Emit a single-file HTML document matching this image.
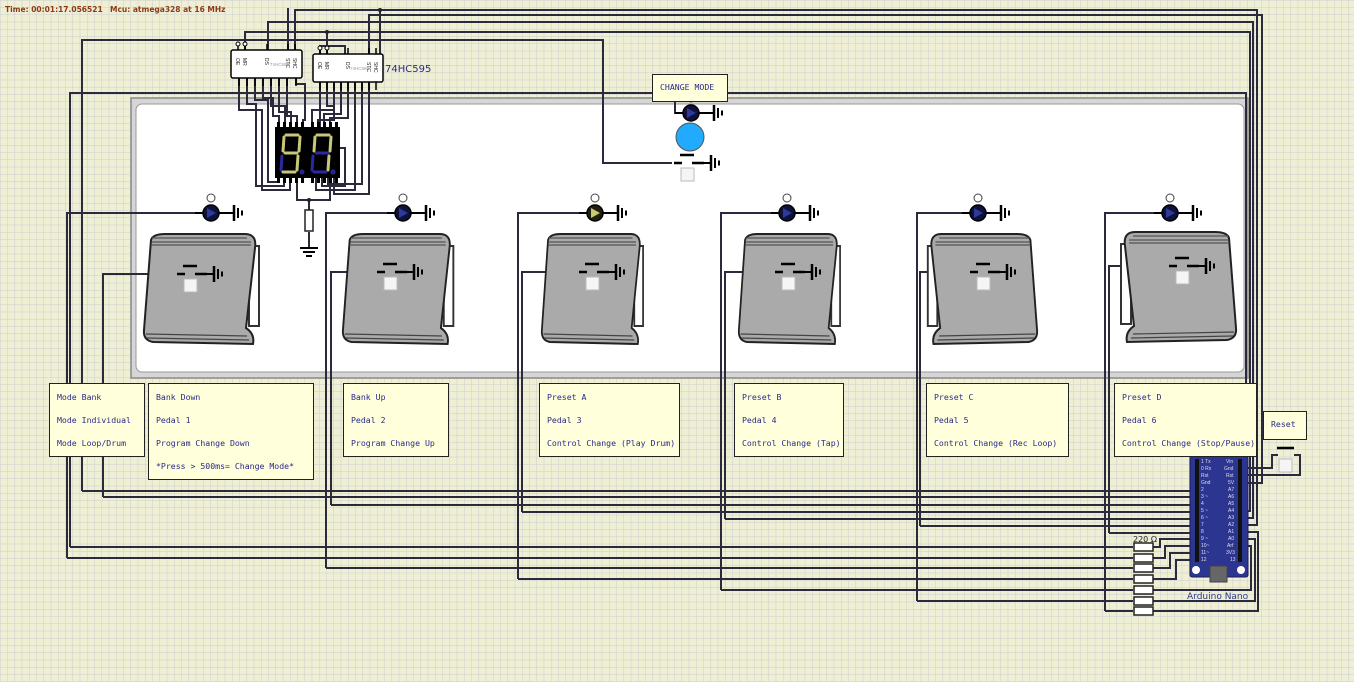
<!DOCTYPE html>
<html><head><meta charset="utf-8"><style>
html,body{margin:0;padding:0;}
body{width:1354px;height:682px;overflow:hidden;position:relative;background:#efefd4;font-family:"DejaVu Sans Mono","Liberation Mono",monospace;}
svg{position:absolute;left:0;top:0;}
.tb{position:absolute;background:#ffffdc;border:1px solid #222;box-sizing:border-box;color:#2a2a8a;font-size:8.2px;line-height:23px;padding:2px 0 0 7px;white-space:nowrap;font-family:"DejaVu Sans Mono","Liberation Mono",monospace;}
</style></head><body>
<svg width="1354" height="682" viewBox="0 0 1354 682" xmlns="http://www.w3.org/2000/svg">
<defs>
<pattern id="grid" width="7.25" height="7.25" patternUnits="userSpaceOnUse">
<rect width="7.25" height="7.25" fill="#efefd4"/>
<path d="M0,0 H7.25 M0,0 V7.25" stroke="#cdcdd2" stroke-width="1" fill="none"/>
</pattern>
<g id="gnd" stroke="#000" fill="none"><path d="M0,0 H7" stroke-width="2"/><path d="M7,-8 V8" stroke-width="2.5"/><path d="M11,-5 V5" stroke-width="2"/><path d="M15,-2.5 V2.5" stroke-width="2"/></g>
<g id="led"><circle cx="0" cy="-15" r="4" fill="#fff" stroke="#444"/><path d="M-16,0 H-8 M8,0 H16" stroke="#000" stroke-width="2"/><circle r="8" fill="#10103c" stroke="#000" stroke-width="1.5"/><path d="M-4,-5 L5,0 L-4,5Z" fill="#2c3a9a"/><use href="#gnd" x="16" y="0"/></g>
<g id="ledy"><circle cx="0" cy="-15" r="4" fill="#fff" stroke="#444"/><path d="M-16,0 H-8 M8,0 H16" stroke="#000" stroke-width="2"/><circle r="8" fill="#20200c" stroke="#000" stroke-width="1.5"/><path d="M-4,-5 L5,0 L-4,5Z" fill="#c8c878"/><use href="#gnd" x="16" y="0"/></g>
<g id="sw"><path d="M-8,-8 H6" stroke="#000" stroke-width="2.5"/><path d="M-14,0 H-6 M4,0 H16" stroke="#000" stroke-width="2.5"/><rect x="-7" y="5" width="13" height="13" fill="#f5f5f5" stroke="#bbb"/><use href="#gnd" x="16" y="0"/></g>
<g id="pedal">
<path d="M106,12 L116,12 L116,92 L106,92Z" fill="#fff" stroke="#333" stroke-width="2"/>
<path d="M8,6 Q10,0 22,0 L102,0 Q114,0 112,14 L103,94 Q112,100 110,110 L10,108 Q0,106 1,96 Z" fill="#aaa" stroke="#222" stroke-width="2"/>
<path d="M9,4 L104,4 M9,8 L108,8 M8,11 L108,11" stroke="#555" stroke-width="1.2" fill="none"/>
<path d="M3,100 L104,102 M4,104 L106,106" stroke="#444" stroke-width="1.2" fill="none"/>
</g>
</defs>
<rect width="1354" height="682" fill="url(#grid)"/>

<rect x="131" y="98" width="1117" height="280" fill="#d6d6d6" stroke="#888" stroke-width="1.5"/>
<rect x="136" y="104" width="1108" height="268" rx="6" fill="#fff" stroke="#999"/>

<g stroke="#2a2a3c" stroke-width="2" fill="none">
<path d="M295,50 V10 H1257 V525 H1240"/>
<path d="M268,50 V22 H1253 V518 H1240"/>
<path d="M245,50 V32 H1250 V511 H1240"/>
<path d="M327,54 V32"/>
<path d="M380,54 V10"/>
<path d="M288,50 V8"/>
<path d="M369,54 V15 H1262 V483 H1240"/>
<path d="M82,491 V40 H603 V163 H672"/>
<path d="M70,547 V93 H675 V113 H683"/>
<path d="M727,93 H1246 V470"/>
<path d="M320,54 V46 H345 V54"/>
<path d="M67,558 V213 H195"/>
<path d="M103,497 V274 H177"/>
<path d="M326,568 V213 H387"/>
<path d="M331,505 V272 H377"/>
<path d="M518,579 V213 H579"/>
<path d="M522,512 V272 H579"/>
<path d="M721,590 V213 H771"/>
<path d="M725,519 V272 H775"/>
<path d="M917,601 V213 H962"/>
<path d="M920,526 V272 H970"/>
<path d="M1105,611 V213 H1154"/>
<path d="M1109,533 V266 H1169"/>
<path d="M82,491 H1197"/>
<path d="M103,497 H1197"/>
<path d="M331,505 H1197"/>
<path d="M522,512 H1197"/>
<path d="M725,519 H1197"/>
<path d="M920,526 H1197"/>
<path d="M1109,533 H1197"/>
<path d="M70,547 H1133"/>
<path d="M67,558 H1133"/>
<path d="M326,568 H1133"/>
<path d="M518,579 H1133"/>
<path d="M721,590 H1133"/>
<path d="M917,601 H1133"/>
<path d="M1105,611 H1133"/>
<path d="M1153,547 H1160 V539 H1197"/>
<path d="M1153,558 H1165 V546 H1197"/>
<path d="M1153,568 H1170 V553 H1197"/>
<path d="M1153,579 H1176 V560 H1197"/>
<path d="M1153,590 H1251 V546 H1240"/>
<path d="M1153,601 H1255 V539 H1240"/>
<path d="M1153,611 H1258 V532 H1240"/>
<path d="M1240,468 H1272 V455 H1278"/>
<path d="M1240,475 H1300 V455 H1294"/>
<path d="M239,78 V110 H262 V190 H290 V178"/>
<path d="M247,78 V104 H256 V186 H284 V178"/>
<path d="M255,78 V100 H268 V182 H279 V178"/>
<path d="M263,78 V98 H273 V116 H279 V127"/>
<path d="M271,78 V106 H285 V127"/>
<path d="M279,78 V112 H291 V127"/>
<path d="M287,78 V116 H297 V127"/>
<path d="M296,78 V84 H305 V120 H303 V127"/>
<path d="M320,82 V148 H345 V186 H322 V178"/>
<path d="M327,82 V106 H334 V120 H318 V127"/>
<path d="M334,82 V110 H312 V127"/>
<path d="M341,82 V114 H324 V127"/>
<path d="M348,82 V118 H330 V127"/>
<path d="M355,82 V190 H316 V178"/>
<path d="M362,82 V184 H328 V178"/>
<path d="M369,82 V194 H334 V178"/>
<path d="M297,178 V200 H330 V178"/>
<path d="M309,200 V210 M309,232 V247"/>
</g>
<circle cx="380" cy="10" r="2" fill="#222"/><circle cx="327" cy="32" r="2" fill="#222"/><circle cx="309" cy="200" r="2" fill="#222"/>
<rect x="305" y="210" width="8" height="21" fill="#fff" stroke="#222" stroke-width="1.5"/>
<path d="M300,248 H318 M303,252 H315 M306,256 H312" stroke="#000" stroke-width="2"/>

<g stroke="#000" stroke-width="1.5">
<path d="M238,50 V43 M245,50 V43 M267,50 V44 M288,50 V44 M295,50 V44"/>
<path d="M320,54 V47 M327,54 V47 M348,54 V48 M369,54 V48 M376,54 V48"/>
<path d="M239,78 V86 M247,78 V86 M255,78 V86 M263,78 V86 M271,78 V86 M279,78 V86 M287,78 V86 M296,78 V86"/>
<path d="M320,82 V90 M327,82 V90 M334,82 V90 M341,82 V90 M348,82 V90 M355,82 V90 M362,82 V90 M369,82 V90 M376,82 V90"/>
</g>
<circle cx="238" cy="44" r="2" fill="#fff" stroke="#000"/><circle cx="245" cy="44" r="2" fill="#fff" stroke="#000"/>
<circle cx="320" cy="48" r="2" fill="#fff" stroke="#000"/><circle cx="327" cy="48" r="2" fill="#fff" stroke="#000"/>
<rect x="231" y="50" width="71" height="28" rx="2" fill="#fff" stroke="#000" stroke-width="1.5"/>
<rect x="313" y="54" width="70" height="28" rx="2" fill="#fff" stroke="#000" stroke-width="1.5"/>
<text x="270" y="66" font-size="4.5" fill="#999" font-family="Liberation Sans,sans-serif">74HC595</text>
<text x="350" y="70" font-size="4.5" fill="#999" font-family="Liberation Sans,sans-serif">74HC595</text>
<text x="385" y="72" font-size="10" fill="#2a2a8a" font-family="DejaVu Sans,sans-serif">74HC595</text>
<g font-size="5" fill="#222" font-family="Liberation Sans,sans-serif">
<text x="236" y="58" transform="rotate(90 236 58)">OE</text><text x="243" y="58" transform="rotate(90 243 58)">MR</text><text x="265" y="58" transform="rotate(90 265 58)">DS</text><text x="286" y="58" transform="rotate(90 286 58)">STC</text><text x="293" y="58" transform="rotate(90 293 58)">SHC</text>
<text x="318" y="62" transform="rotate(90 318 62)">OE</text><text x="325" y="62" transform="rotate(90 325 62)">MR</text><text x="346" y="62" transform="rotate(90 346 62)">DS</text><text x="367" y="62" transform="rotate(90 367 62)">STC</text><text x="374" y="62" transform="rotate(90 374 62)">SHC</text>
</g>

<rect x="275" y="127" width="65" height="51" fill="#000"/>
<g fill="#000"><rect x="277" y="122" width="3" height="5"/><rect x="283" y="122" width="3" height="5"/><rect x="289" y="122" width="3" height="5"/><rect x="295" y="122" width="3" height="5"/><rect x="301" y="122" width="3" height="5"/><rect x="311" y="122" width="3" height="5"/><rect x="317" y="122" width="3" height="5"/><rect x="323" y="122" width="3" height="5"/><rect x="329" y="122" width="3" height="5"/><rect x="335" y="122" width="3" height="5"/>
<rect x="277" y="178" width="3" height="5"/><rect x="283" y="178" width="3" height="5"/><rect x="289" y="178" width="3" height="5"/><rect x="295" y="178" width="3" height="5"/><rect x="301" y="178" width="3" height="5"/><rect x="311" y="178" width="3" height="5"/><rect x="317" y="178" width="3" height="5"/><rect x="323" y="178" width="3" height="5"/><rect x="329" y="178" width="3" height="5"/><rect x="335" y="178" width="3" height="5"/></g>
<g stroke-width="3" stroke-linecap="round" fill="none">
<path d="M286,135 H298" stroke="#c8c878"/><path d="M284,137 L283,151" stroke="#c8c878"/><path d="M300,137 L299,151" stroke="#c8c878"/><path d="M285,153 H297" stroke="#c8c878"/><path d="M282,156 L281,170" stroke="#2a2aa0"/><path d="M298,156 L297,170" stroke="#c8c878"/><path d="M283,172 H295" stroke="#c8c878"/><circle cx="302" cy="172" r="1" stroke="#2a2aa0"/>
<path d="M317,135 H329" stroke="#c8c878"/><path d="M315,137 L314,151" stroke="#c8c878"/><path d="M331,137 L330,151" stroke="#c8c878"/><path d="M316,153 H328" stroke="#2a2aa0"/><path d="M313,156 L312,170" stroke="#2a2aa0"/><path d="M329,156 L328,170" stroke="#c8c878"/><path d="M314,172 H326" stroke="#2a2aa0"/><circle cx="333" cy="172" r="1" stroke="#2a2aa0"/>
</g>

<use href="#led" x="691" y="113"/>
<circle cx="690" cy="137" r="14" fill="#22aaff" stroke="#555"/>
<use href="#sw" x="688" y="163"/>

<use href="#pedal" transform="translate(143,234)"/>
<use href="#pedal" transform="translate(342,234) scale(0.96,1)"/>
<use href="#pedal" transform="translate(541,234) scale(0.88,1)"/>
<use href="#pedal" transform="translate(738,234) scale(0.88,1)"/>
<use href="#pedal" transform="translate(1038,234) scale(-0.95,1)"/>
<use href="#pedal" transform="translate(1237,232) scale(-1,1)"/>

<use href="#led" x="211" y="213"/><use href="#led" x="403" y="213"/><use href="#ledy" x="595" y="213"/><use href="#led" x="787" y="213"/><use href="#led" x="978" y="213"/><use href="#led" x="1170" y="213"/>
<use href="#sw" x="191" y="274"/><use href="#sw" x="391" y="272"/><use href="#sw" x="593" y="272"/><use href="#sw" x="789" y="272"/><use href="#sw" x="984" y="272"/><use href="#sw" x="1183" y="266"/>

<g fill="#fff" stroke="#222" stroke-width="1.5">
<rect x="1134" y="543" width="19" height="8"/><rect x="1134" y="554" width="19" height="8"/><rect x="1134" y="564" width="19" height="8"/><rect x="1134" y="575" width="19" height="8"/><rect x="1134" y="586" width="19" height="8"/><rect x="1134" y="597" width="19" height="8"/><rect x="1134" y="607" width="19" height="8"/>
</g>
<text x="1133" y="542" font-size="8" fill="#222" font-family="DejaVu Sans,sans-serif">220 Ω</text>

<rect x="1190" y="456" width="58" height="121" rx="2" fill="#2c3590" stroke="#1a1f60"/>
<rect x="1210" y="566" width="17" height="16" fill="#666" stroke="#444"/>
<circle cx="1196" cy="570" r="4" fill="#fff"/><circle cx="1241" cy="570" r="4" fill="#fff"/>
<g fill="#111">
<rect x="1195" y="459" width="4" height="103"/><rect x="1238" y="459" width="4" height="103"/>
</g>
<g font-size="5" fill="#dde" font-family="Liberation Sans,sans-serif">
<text x="1201" y="463">1 Tx</text><text x="1201" y="470">0 Rx</text><text x="1201" y="477">Rst</text><text x="1201" y="484">Gnd</text><text x="1201" y="491">2</text><text x="1201" y="498">3 ~</text><text x="1201" y="505">4</text><text x="1201" y="512">5 ~</text><text x="1201" y="519">6 ~</text><text x="1201" y="526">7</text><text x="1201" y="533">8</text><text x="1201" y="540">9 ~</text><text x="1201" y="547">10~</text><text x="1201" y="554">11~</text><text x="1201" y="561">12</text>
<text x="1226" y="463">Vin</text><text x="1224" y="470">Gnd</text><text x="1226" y="477">Rst</text><text x="1228" y="484">5V</text><text x="1228" y="491">A7</text><text x="1228" y="498">A6</text><text x="1228" y="505">A5</text><text x="1228" y="512">A4</text><text x="1228" y="519">A3</text><text x="1228" y="526">A2</text><text x="1228" y="533">A1</text><text x="1228" y="540">A0</text><text x="1227" y="547">Arf</text><text x="1226" y="554">3V3</text><text x="1230" y="561">13</text>
</g>
<text x="1187" y="599" font-size="9" fill="#2b3a8e" font-family="DejaVu Sans,sans-serif">Arduino Nano</text>

<path d="M1277,448 H1294" stroke="#000" stroke-width="2.5"/>
<rect x="1279" y="459" width="13" height="13" fill="#f5f5f5" stroke="#bbb"/>

<text x="5" y="12" font-size="7.5" font-weight="bold" fill="#8b3a1a" font-family="DejaVu Sans,sans-serif">Time: 00:01:17.056521</text>
<text x="110" y="12" font-size="7.5" font-weight="bold" fill="#8b3a1a" font-family="DejaVu Sans,sans-serif">Mcu: atmega328 at 16 MHz</text>
</svg>

<div class="tb" style="left:652px;top:74px;width:76px;height:28px;line-height:24px;padding-top:0;">CHANGE MODE</div>
<div class="tb" style="left:49px;top:383px;width:96px;height:74px;">Mode Bank<br>Mode Individual<br>Mode Loop/Drum</div>
<div class="tb" style="left:148px;top:383px;width:166px;height:97px;">Bank Down<br>Pedal 1<br>Program Change Down<br>*Press &gt; 500ms= Change Mode*</div>
<div class="tb" style="left:343px;top:383px;width:106px;height:74px;">Bank Up<br>Pedal 2<br>Program Change Up</div>
<div class="tb" style="left:539px;top:383px;width:141px;height:74px;">Preset A<br>Pedal 3<br>Control Change (Play Drum)</div>
<div class="tb" style="left:734px;top:383px;width:110px;height:74px;">Preset B<br>Pedal 4<br>Control Change (Tap)</div>
<div class="tb" style="left:926px;top:383px;width:143px;height:74px;">Preset C<br>Pedal 5<br>Control Change (Rec Loop)</div>
<div class="tb" style="left:1114px;top:383px;width:143px;height:74px;">Preset D<br>Pedal 6<br>Control Change (Stop/Pause)</div>
<div class="tb" style="left:1263px;top:411px;width:44px;height:29px;line-height:25px;padding-top:0;">Reset</div>
</body></html>
